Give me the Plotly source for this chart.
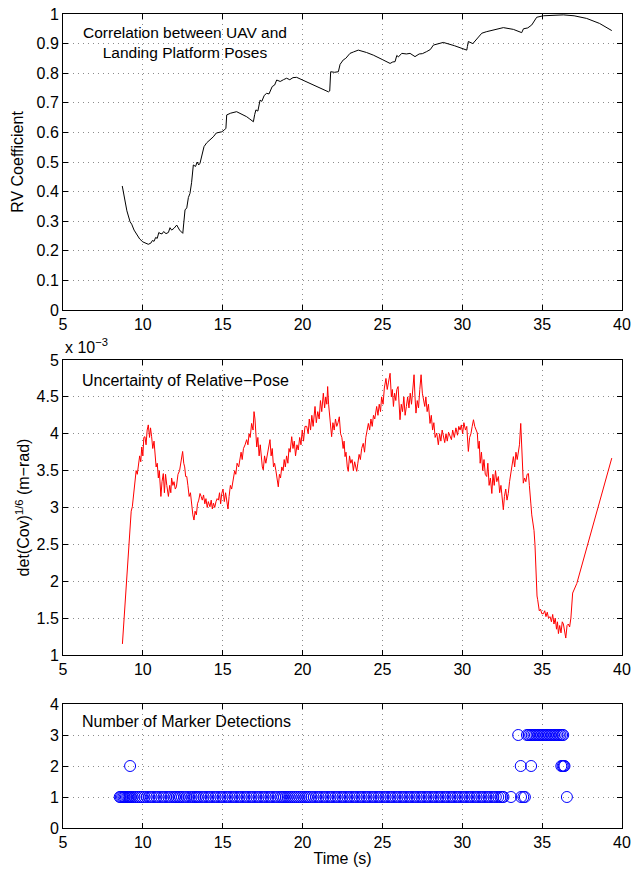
import plotly.graph_objects as go

# ---------------- data ----------------
rv_pairs = [
    (8.71, 0.419), (8.85, 0.38), (9.0, 0.335), (9.2, 0.298), (9.3, 0.29), (9.45, 0.27),
    (9.6, 0.255), (9.8, 0.24), (10.0, 0.23), (10.2, 0.224), (10.34, 0.222), (10.5, 0.226),
    (10.6, 0.235), (10.7, 0.232), (10.8, 0.245), (10.9, 0.242), (11.0, 0.262), (11.07, 0.259),
    (11.2, 0.257), (11.3, 0.265), (11.45, 0.258), (11.6, 0.262), (11.7, 0.278), (11.8, 0.27),
    (11.95, 0.276), (12.12, 0.287), (12.3, 0.27), (12.5, 0.259), (12.55, 0.3), (12.64, 0.338),
    (12.75, 0.345), (12.85, 0.38), (12.95, 0.394), (13.05, 0.43), (13.16, 0.49), (13.3, 0.485),
    (13.4, 0.5), (13.5, 0.49), (13.58, 0.496), (13.7, 0.52), (13.83, 0.552), (14.0, 0.565),
    (14.2, 0.575), (14.41, 0.585), (14.6, 0.598), (14.8, 0.6), (14.94, 0.602), (15.1, 0.608),
    (15.2, 0.614), (15.25, 0.659), (15.5, 0.665), (15.87, 0.670), (16.2, 0.662), (16.5, 0.653),
    (16.7, 0.645), (16.92, 0.636), (17.0, 0.66), (17.08, 0.676), (17.2, 0.672), (17.34, 0.709),
    (17.45, 0.705), (17.6, 0.725), (17.75, 0.732), (17.9, 0.73), (18.1, 0.755), (18.25, 0.76),
    (18.38, 0.777), (18.6, 0.772), (18.8, 0.778), (19.0, 0.783), (19.2, 0.778), (19.4, 0.785),
    (19.63, 0.786), (20.0, 0.777), (20.47, 0.766), (21.09, 0.749), (21.62, 0.737), (21.7, 0.74),
    (21.76, 0.805), (22.0, 0.803), (22.24, 0.805), (22.35, 0.83), (22.55, 0.845), (22.7, 0.85),
    (22.97, 0.867), (23.2, 0.872), (23.49, 0.878), (24.0, 0.87), (24.43, 0.861), (25.0, 0.846),
    (25.48, 0.833), (25.65, 0.838), (25.79, 0.839), (25.9, 0.86), (26.0, 0.855), (26.21, 0.867),
    (26.5, 0.865), (26.73, 0.867), (27.04, 0.856), (27.3, 0.865), (27.5, 0.866), (27.77, 0.873),
    (28.0, 0.88), (28.19, 0.895), (28.5, 0.9), (28.81, 0.904), (29.5, 0.893), (30.28, 0.878),
    (30.32, 0.89), (30.38, 0.907), (30.66, 0.9), (30.9, 0.915), (31.22, 0.935), (31.5, 0.94),
    (31.95, 0.946), (32.3, 0.95), (32.57, 0.954), (33.2, 0.948), (33.5, 0.942), (33.72, 0.937),
    (33.83, 0.95), (34.1, 0.953), (34.35, 0.963), (34.5, 0.975), (34.66, 0.989), (35.08, 0.994),
    (35.7, 0.996), (36.33, 0.997), (37.0, 0.994), (37.79, 0.985), (38.6, 0.968), (39.36, 0.944),
]

# uncertainty in units of 1e-3
unc_pairs = [
    (8.72, 1.15), (8.82, 1.47), (8.90, 1.75), (8.99, 2.11), (9.10, 2.45), (9.20, 2.69),
    (9.27, 2.95), (9.34, 3.01), (9.42, 3.2), (9.51, 3.33), (9.58, 3.5), (9.65, 3.45),
    (9.72, 3.6), (9.80, 3.7), (9.87, 3.62), (9.93, 3.82), (10.0, 3.7), (10.06, 3.95),
    (10.13, 3.96), (10.2, 3.85), (10.27, 4.05), (10.34, 4.12), (10.42, 3.95), (10.48, 4.08),
    (10.55, 3.96), (10.62, 3.8), (10.7, 3.9), (10.76, 3.69), (10.83, 3.55), (10.9, 3.6),
    (10.97, 3.4), (11.03, 3.5), (11.07, 3.28), (11.13, 3.15), (11.2, 3.35), (11.28, 3.46),
    (11.35, 3.2), (11.42, 3.45), (11.5, 3.3), (11.6, 3.15), (11.68, 3.3), (11.75, 3.2),
    (11.8, 3.4), (11.88, 3.3), (11.95, 3.35), (12.03, 3.25), (12.1, 3.28), (12.2, 3.45),
    (12.3, 3.5), (12.4, 3.65), (12.49, 3.76), (12.56, 3.6), (12.62, 3.55), (12.68, 3.42),
    (12.75, 3.42), (12.82, 3.3), (12.9, 3.15), (12.98, 3.2), (13.06, 3.01), (13.13, 2.9),
    (13.2, 2.83), (13.27, 2.95), (13.35, 2.9), (13.42, 3.05), (13.5, 3.1), (13.58, 3.19),
    (13.65, 3.15), (13.72, 3.1), (13.8, 3.17), (13.88, 3.05), (13.95, 3.12), (14.03, 3.0),
    (14.1, 3.08), (14.2, 3.01), (14.28, 3.1), (14.35, 2.98), (14.42, 3.06), (14.5, 3.0),
    (14.58, 3.08), (14.65, 3.12), (14.73, 3.1), (14.8, 3.2), (14.87, 3.05), (14.94, 3.19),
    (15.02, 3.25), (15.1, 3.08), (15.18, 3.2), (15.26, 3.1), (15.33, 2.98), (15.4, 3.15),
    (15.48, 3.3), (15.56, 3.25), (15.66, 3.42), (15.75, 3.5), (15.82, 3.45), (15.9, 3.6),
    (16.0, 3.55), (16.08, 3.69), (16.15, 3.75), (16.22, 3.65), (16.3, 3.8), (16.4, 3.85),
    (16.5, 3.92), (16.58, 3.85), (16.65, 4.0), (16.72, 3.95), (16.81, 4.14), (16.9, 4.05),
    (16.96, 4.3), (17.02, 4.2), (17.08, 4.0), (17.13, 3.82), (17.2, 3.95), (17.28, 3.7),
    (17.35, 3.85), (17.42, 3.6), (17.48, 3.55), (17.54, 3.51), (17.62, 3.7), (17.7, 3.6),
    (17.8, 3.75), (17.88, 3.85), (17.96, 3.92), (18.03, 3.7), (18.1, 3.8), (18.18, 3.55),
    (18.25, 3.6), (18.33, 3.5), (18.4, 3.4), (18.48, 3.28), (18.55, 3.45), (18.62, 3.4),
    (18.7, 3.55), (18.78, 3.5), (18.85, 3.65), (18.92, 3.55), (19.0, 3.7), (19.08, 3.6),
    (19.15, 3.8), (19.22, 3.75), (19.32, 3.96), (19.4, 3.8), (19.48, 3.9), (19.56, 3.7),
    (19.65, 3.85), (19.73, 3.78), (19.82, 3.95), (19.9, 3.85), (19.98, 4.05), (20.06, 3.9),
    (20.15, 4.1), (20.26, 4.1), (20.35, 4.0), (20.42, 4.2), (20.5, 4.05), (20.58, 4.25),
    (20.66, 4.1), (20.78, 4.37), (20.86, 4.15), (20.95, 4.3), (21.04, 4.2), (21.12, 4.45),
    (21.2, 4.3), (21.3, 4.55), (21.38, 4.35), (21.45, 4.5), (21.52, 4.4), (21.57, 4.64),
    (21.63, 4.4), (21.7, 4.2), (21.76, 4.05), (21.82, 3.96), (21.9, 4.15), (21.98, 4.05),
    (22.06, 4.2), (22.14, 4.1), (22.22, 4.15), (22.3, 4.23), (22.38, 4.0), (22.46, 3.95),
    (22.54, 3.8), (22.6, 3.9), (22.66, 3.69), (22.72, 3.75), (22.8, 3.55), (22.86, 3.49),
    (22.94, 3.7), (23.02, 3.6), (23.1, 3.65), (23.18, 3.5), (23.26, 3.62), (23.34, 3.52),
    (23.39, 3.49), (23.46, 3.6), (23.54, 3.72), (23.62, 3.65), (23.7, 3.8), (23.8, 3.87),
    (23.88, 3.75), (23.96, 3.95), (24.04, 4.05), (24.12, 4.14), (24.2, 4.05), (24.28, 4.2),
    (24.36, 4.1), (24.44, 4.25), (24.52, 4.2), (24.64, 4.37), (24.72, 4.25), (24.8, 4.4),
    (24.88, 4.3), (24.95, 4.5), (25.04, 4.4), (25.12, 4.62), (25.22, 4.75), (25.3, 4.6),
    (25.38, 4.7), (25.48, 4.82), (25.56, 4.5), (25.62, 4.6), (25.69, 4.37), (25.76, 4.55),
    (25.84, 4.45), (25.9, 4.6), (25.98, 4.64), (26.04, 4.35), (26.1, 4.19), (26.18, 4.4),
    (26.26, 4.3), (26.34, 4.5), (26.42, 4.25), (26.5, 4.37), (26.58, 4.5), (26.66, 4.35),
    (26.74, 4.55), (26.82, 4.4), (26.9, 4.65), (26.98, 4.8), (27.04, 4.5), (27.1, 4.28),
    (27.18, 4.45), (27.26, 4.35), (27.34, 4.6), (27.42, 4.8), (27.5, 4.55), (27.58, 4.45),
    (27.65, 4.37), (27.72, 4.5), (27.8, 4.3), (27.88, 4.4), (27.98, 4.14), (28.06, 4.25),
    (28.14, 4.05), (28.22, 4.15), (28.3, 3.95), (28.4, 4.01), (28.5, 3.85), (28.58, 4.0),
    (28.66, 3.9), (28.74, 4.05), (28.81, 3.96), (28.9, 3.88), (28.98, 4.0), (29.06, 3.9),
    (29.14, 4.02), (29.23, 3.96), (29.32, 3.92), (29.4, 4.05), (29.5, 3.95), (29.6, 4.08),
    (29.7, 3.98), (29.78, 4.1), (29.86, 4.05), (29.94, 4.12), (30.02, 4.0), (30.1, 4.15),
    (30.2, 4.05), (30.28, 4.1), (30.38, 3.76), (30.46, 3.95), (30.54, 4.0), (30.62, 4.1),
    (30.7, 4.19), (30.78, 4.1), (30.86, 4.05), (30.94, 4.01), (31.0, 3.8), (31.06, 3.9),
    (31.12, 3.6), (31.2, 3.75), (31.28, 3.5), (31.36, 3.65), (31.44, 3.45), (31.53, 3.42),
    (31.6, 3.6), (31.68, 3.3), (31.76, 3.4), (31.85, 3.19), (31.92, 3.45), (32.0, 3.3),
    (32.08, 3.5), (32.16, 3.35), (32.26, 3.42), (32.34, 3.2), (32.42, 3.3), (32.5, 3.1),
    (32.57, 2.97), (32.64, 3.15), (32.72, 3.25), (32.8, 3.1), (32.88, 3.19), (32.96, 3.35),
    (33.04, 3.45), (33.12, 3.55), (33.2, 3.69), (33.28, 3.55), (33.36, 3.75), (33.44, 3.65),
    (33.51, 3.74), (33.58, 3.85), (33.66, 4.14), (33.72, 3.8), (33.78, 3.55), (33.82, 3.33),
    (33.9, 3.4), (33.98, 3.35), (34.06, 3.45), (34.14, 3.46), (34.2, 3.3), (34.25, 3.1),
    (34.29, 3.06), (34.35, 2.9), (34.42, 2.8), (34.49, 2.69), (34.55, 2.5), (34.6, 2.1),
    (34.62, 1.93), (34.68, 1.8), (34.72, 1.75), (34.76, 1.65), (34.82, 1.6), (34.9, 1.62),
    (34.98, 1.56), (35.08, 1.56), (35.16, 1.6), (35.24, 1.52), (35.32, 1.58), (35.4, 1.5),
    (35.5, 1.52), (35.58, 1.45), (35.66, 1.55), (35.74, 1.42), (35.82, 1.5), (35.9, 1.35),
    (35.96, 1.45), (36.02, 1.29), (36.1, 1.4), (36.18, 1.3), (36.26, 1.45), (36.33, 1.42),
    (36.4, 1.3), (36.48, 1.23), (36.56, 1.4), (36.64, 1.42), (36.72, 1.38), (36.8, 1.5),
    (36.91, 1.84), (37.17, 1.97), (39.36, 3.67),
]

det1_t = [8.55, 8.62, 8.7, 8.78, 8.86, 8.94, 9.02, 9.1, 9.18, 9.26, 9.36, 9.48, 9.6, 9.72,
          9.84, 9.96, 10.1, 10.25, 10.4, 10.55, 10.7, 10.85, 11.0, 11.15, 11.3, 11.45, 11.6,
          11.75, 11.9, 12.02, 12.12, 12.22, 12.32, 12.45, 12.6, 12.75, 12.9, 13.05, 13.18,
          13.28, 13.38, 13.5, 13.65, 13.8, 13.95, 14.1, 14.25, 14.4, 14.55, 14.7, 14.85, 15.0,
          15.15, 15.3, 15.45, 15.6, 15.75, 15.9, 16.05, 16.2, 16.35, 16.5, 16.65, 16.8, 16.95,
          17.1, 17.25, 17.4, 17.55, 17.7, 17.85, 18.0, 18.15, 18.3, 18.45, 18.6, 18.72, 18.84,
          18.96, 19.08, 19.2, 19.32, 19.44, 19.56, 19.68, 19.8, 19.92, 20.04, 20.16, 20.28,
          20.4, 20.55, 20.7, 20.85, 21.0, 21.15, 21.3, 21.45, 21.6, 21.75, 21.9, 22.05, 22.2,
          22.35, 22.5, 22.65, 22.8, 22.95, 23.1, 23.25, 23.4, 23.55, 23.7, 23.85, 24.0, 24.15,
          24.3, 24.45, 24.6, 24.75, 24.9, 25.05, 25.2, 25.35, 25.5, 25.65, 25.8, 25.95, 26.1,
          26.25, 26.4, 26.55, 26.7, 26.85, 27.0, 27.15, 27.3, 27.45, 27.6, 27.75, 27.9, 28.05,
          28.2, 28.35, 28.5, 28.65, 28.8, 28.95, 29.1, 29.25, 29.4, 29.55, 29.7, 29.85, 30.0,
          30.15, 30.3, 30.45, 30.6, 30.75, 30.9, 31.05, 31.2, 31.35, 31.5, 31.65, 31.8, 31.95,
          32.1, 32.25, 32.4, 32.5, 32.58, 33.05, 33.68, 33.82, 33.92, 36.55]
det2_t = [9.2, 33.66, 34.31, 36.2, 36.28, 36.35, 36.4]
det3_t = [33.5, 34.05, 34.15, 34.25, 34.35, 34.45, 34.55, 34.65, 34.75, 34.85, 34.95, 35.05,
          35.15, 35.25, 35.35, 35.45, 35.55, 35.65, 35.75, 35.85, 35.95, 36.05, 36.15, 36.25,
          36.32]

x_ticks = [5, 10, 15, 20, 25, 30, 35, 40]

# ---------------- figure ----------------
FONT = "Liberation Sans, Arial, Helvetica, sans-serif"
fig = go.Figure()

fig.add_trace(go.Scatter(x=[p[0] for p in rv_pairs], y=[p[1] for p in rv_pairs],
                         mode="lines", line=dict(color="black", width=1),
                         xaxis="x", yaxis="y", showlegend=False))
fig.add_trace(go.Scatter(x=[p[0] for p in unc_pairs], y=[p[1] for p in unc_pairs],
                         mode="lines", line=dict(color="#ff0000", width=1),
                         xaxis="x2", yaxis="y2", showlegend=False))
for ts, n in ((det1_t, 1), (det2_t, 2), (det3_t, 3)):
    fig.add_trace(go.Scatter(x=ts, y=[n] * len(ts), mode="markers",
                             marker=dict(symbol="circle-open", size=11, color="#0000ff",
                                         line=dict(width=1, color="#0000ff")),
                             xaxis="x3", yaxis="y3", showlegend=False))

common = dict(showline=True, linecolor="black", linewidth=1, mirror="allticks",
              ticks="inside", ticklen=5, tickcolor="black", tickwidth=1,
              showgrid=True, gridcolor="#8c8c8c", griddash="1px,4px", gridwidth=1,
              zeroline=False, automargin=False,
              tickfont=dict(size=16, color="black", family=FONT))

xcommon = dict(common, range=[5, 40], tickvals=x_ticks)

fig.update_layout(
    width=632, height=872,
    margin=dict(l=63, r=10, t=14, b=44, autoexpand=False),
    paper_bgcolor="white", plot_bgcolor="white",
    font=dict(family=FONT, size=16, color="black"),
    xaxis=dict(xcommon, domain=[0, 1], anchor="y"),
    xaxis2=dict(xcommon, domain=[0, 1], anchor="y2"),
    xaxis3=dict(xcommon, domain=[0, 1], anchor="y3",
                title=dict(text="Time (s)", standoff=2, font=dict(size=16))),
    yaxis=dict(common, domain=[0.63636, 1], range=[0, 1], dtick=0.1, anchor="x",
               title=dict(text="RV Coefficient", standoff=8, font=dict(size=16))),
    yaxis2=dict(common, domain=[0.21253, 0.57494], range=[1, 5], dtick=0.5, anchor="x2",
                title=dict(text="det(Cov)<sup>1/6</sup> (m\u2212rad)", standoff=2,
                           font=dict(size=16))),
    yaxis3=dict(common, domain=[0, 0.15233], range=[0, 4], dtick=1, anchor="x3"),
)

ann_font = dict(family=FONT, size=16, color="black")
fig.add_annotation(x=0.218, y=0.903, xref="x domain", yref="y domain", showarrow=False,
                   text="Correlation between UAV and<br>Landing Platform Poses",
                   align="center", font=dict(ann_font, size=15.5),
                   xanchor="center", yanchor="middle")
fig.add_annotation(x=0.03, y=0.93, xref="x2 domain", yref="y2 domain", showarrow=False,
                   text="Uncertainty of Relative\u2212Pose", font=ann_font,
                   xanchor="left", yanchor="middle")
fig.add_annotation(x=0.03, y=0.86, xref="x3 domain", yref="y3 domain", showarrow=False,
                   text="Number of Marker Detections", font=ann_font,
                   xanchor="left", yanchor="middle")
fig.add_annotation(x=0, y=1, xref="x2 domain", yref="y2 domain", showarrow=False,
                   text="x 10<sup>\u22123</sup>", font=ann_font,
                   xanchor="left", yanchor="bottom", yshift=2)

fig.write_html("out.html")
